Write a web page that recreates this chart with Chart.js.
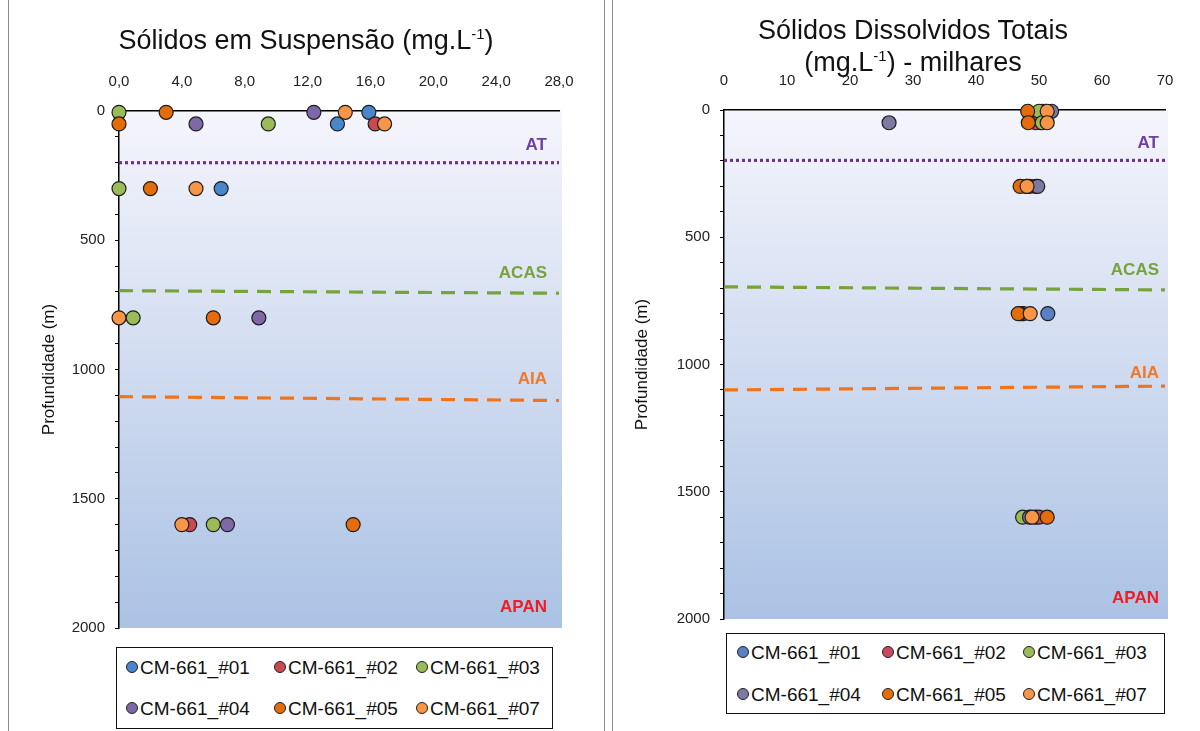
<!DOCTYPE html>
<html lang="pt">
<head>
<meta charset="UTF-8">
<title>Sólidos em Suspensão e Sólidos Dissolvidos Totais</title>
<script src="https://cdn.jsdelivr.net/npm/chart.js"></script>
<style>
  body { margin: 0; width: 1200px; height: 731px; background: #fff; position: relative; overflow: hidden;
         font-family: 'Liberation Sans', Arial, sans-serif; color: #111; }
  .frame { position: absolute; top: 0; height: 731px; border-left: 1px solid #8c8c8c; border-right: 1px solid #8c8c8c; }
  .frame canvas { position: absolute; left: 0; top: 0; }
  .title { position: absolute; font-size: 27px; text-align: center; line-height: 32px; }
  .title sup { font-size: 15px; line-height: 0; vertical-align: 10px; }
  .legend { position: absolute; border: 1.5px solid #111; background: #fff; box-sizing: border-box; }
  .legend .item { position: absolute; font-size: 19px; white-space: nowrap; line-height: 22px; }
  .legend .dot { display: inline-block; width: 10px; height: 10px; border-radius: 50%; border: 1px solid #222;
                 margin-right: 2px; vertical-align: 1px; }
</style>
</head>
<body>

<div class="frame" style="left:8px; width:595px;">
  <canvas id="ssChart" width="595" height="731"></canvas>
</div>
<div class="frame" style="left:612px; width:600px;">
  <canvas id="sdtChart" width="588" height="731"></canvas>
</div>

<div class="title" style="left:9px; width:594px; top:24px;">Sólidos em Suspensão (mg.L<sup>-1</sup>)</div>
<div class="title" style="left:613px; width:600px; top:14px;">Sólidos Dissolvidos Totais<br>(mg.L<sup>-1</sup>) - milhares</div>

<div class="legend" id="ssLegend" style="left:116px; top:647px; width:437px; height:82px;"></div>
<div class="legend" id="sdtLegend" style="left:726px; top:633px; width:439px; height:81px;"></div>

<script>
// amostragem (profundidade em m)
const depths = [5, 50, 300, 800, 1600];
const seriesNames = ['CM-661_#01', 'CM-661_#02', 'CM-661_#03', 'CM-661_#04', 'CM-661_#05', 'CM-661_#07'];

// sólidos em suspensão (mg/L), uma linha por estação, na ordem de depths
const ss01 = [15.9, 13.9, 6.5, null, null];
const ss02 = [null, 16.3, null, null, 4.5];
const ss03 = [0.0, 9.5, 0.0, 0.9, 6.0];
const ss04 = [12.4, 4.9, null, 8.9, 6.9];
const ss05 = [3.0, 0.0, 2.0, 6.0, 14.9];
const ss07 = [14.4, 16.9, 4.9, 0.0, 4.0];

// sólidos dissolvidos totais (mg/L, milhares)
const sdt01 = [51.0, 50.2, 48.5, 51.4, 49.5];
const sdt02 = [50.5, 49.5, 49.5, 47.3, 50.0];
const sdt03 = [50.0, 50.5, 48.0, 47.5, 47.4];
const sdt04 = [52.0, 26.2, 49.8, 47.0, 48.5];
const sdt05 = [48.2, 48.3, 47.0, 46.7, 51.3];
const sdt07 = [51.3, 51.3, 48.1, 48.6, 48.9];

// eixos
const ssMax = 28, ssStep = 4;
const sdtMax = 70, sdtStep = 10;
const depthMax = 2000, depthStep = 500;

// massas d'água: profundidade do limite (início e fim da linha)
const ssAT = [200, 200], ssACAS = [695, 705], ssAIA = [1105, 1120];
const sdtAT = [198, 198], sdtACAS = [695, 707], sdtAIA = [1100, 1085];

const ssColors  = ['#4a86cc', '#c94a52', '#9bbb59', '#7f68a8', '#e46c0a', '#f79646'];
const sdtColors = ['#5a7fc4', '#c84a5e', '#9bbb59', '#7c7aa2', '#e46c0a', '#f79646'];
const massStyle = {
  AT:   { color: '#7030a0', text: '#6f3ea6', dash: [3, 3] },
  ACAS: { color: '#76a33a', text: '#77a23c', dash: [14, 9] },
  AIA:  { color: '#f0741c', text: '#f0782a', dash: [14, 9] },
  APAN: { text: '#f01c24' }
};

Chart.defaults.font.family = "'Liberation Sans', Arial, sans-serif";
Chart.defaults.color = '#111';

// fundo em degradê da área de plotagem
const gradientBg = {
  id: 'gradientBg',
  beforeDraw(chart) {
    const { ctx, chartArea: a } = chart;
    const g = ctx.createLinearGradient(0, a.top, 0, a.bottom);
    g.addColorStop(0, '#f5f5fc');
    g.addColorStop(1, '#abc2e4');
    ctx.save();
    ctx.fillStyle = g;
    ctx.fillRect(a.left, a.top, a.right - a.left + 3, a.bottom - a.top);
    ctx.restore();
  }
};

// nomes das massas d'água acima de cada limite
const massLabels = {
  id: 'massLabels',
  afterDatasetsDraw(chart, args, opts) {
    const { ctx, chartArea: a, scales: { y } } = chart;
    ctx.save();
    ctx.font = 'bold 17px "Liberation Sans", Arial, sans-serif';
    ctx.textAlign = 'right';
    ctx.textBaseline = 'middle';
    opts.items.forEach(it => {
      const py = it.depth != null ? y.getPixelForValue(it.depth) - 17 : a.bottom - 21;
      ctx.fillStyle = massStyle[it.name].text;
      ctx.fillText(it.name, a.right - opts.inset, py);
    });
    ctx.restore();
  }
};

function pointSet(values, i, colors) {
  return {
    type: 'scatter',
    label: seriesNames[i],
    data: depths.map((d, k) => ({ x: values[k], y: d })).filter(p => p.x !== null),
    backgroundColor: colors[i],
    borderColor: '#1c1c1c',
    borderWidth: 1.2,
    pointRadius: 7,
    clip: false,
    order: seriesNames.length - i
  };
}

function massLine(name, ends, xMax) {
  const s = massStyle[name];
  return {
    type: 'line',
    label: name,
    data: [{ x: 0, y: ends[0] }, { x: xMax, y: ends[1] }],
    borderColor: s.color,
    borderWidth: 3.2,
    borderDash: s.dash,
    pointRadius: 0,
    order: 20
  };
}

function buildChart(id, cfg) {
  return new Chart(document.getElementById(id), {
    type: 'scatter',
    data: { datasets: cfg.datasets },
    plugins: [gradientBg, massLabels],
    options: {
      responsive: false,
      animation: false,
      layout: { padding: cfg.padding },
      plugins: {
        legend: { display: false },
        tooltip: { enabled: false },
        massLabels: { items: cfg.labels, inset: cfg.inset }
      },
      scales: {
        x: {
          type: 'linear', position: 'top', min: 0, max: cfg.xMax,
          afterFit: s => { s.height = cfg.xAxisHeight; },
          border: { display: true, color: '#000', width: 1.5 },
          grid: { display: false },
          ticks: { stepSize: cfg.xStep, padding: 12, font: { size: 15 }, color: '#222',
                   callback: cfg.xFormat }
        },
        y: {
          type: 'linear', reverse: true, min: 0, max: depthMax,
          afterFit: s => { s.width = cfg.yAxisWidth; },
          border: { display: true, color: '#000', width: 1.5 },
          grid: { display: true, drawOnChartArea: false, drawTicks: true, tickLength: 4, color: '#000' },
          title: { display: true, text: 'Profundidade (m)', font: { size: 17 }, padding: 0 },
          ticks: { stepSize: 100, autoSkip: false, padding: 10, font: { size: 15 }, color: '#222',
                   callback: v => (v % depthStep === 0 ? v : '') }
        }
      }
    }
  });
}

const ssSeries = [ss01, ss02, ss03, ss04, ss05, ss07];
const sdtSeries = [sdt01, sdt02, sdt03, sdt04, sdt05, sdt07];

buildChart('ssChart', {
  datasets: [
    ...ssSeries.map((v, i) => pointSet(v, i, ssColors)),
    massLine('AT', ssAT, ssMax), massLine('ACAS', ssACAS, ssMax), massLine('AIA', ssAIA, ssMax)
  ],
  labels: [{ name: 'AT', depth: ssAT[0] }, { name: 'ACAS', depth: ssACAS[0] },
           { name: 'AIA', depth: ssAIA[0] }, { name: 'APAN', depth: null }],
  inset: 12,
  xMax: ssMax, xStep: ssStep,
  xFormat: v => v.toFixed(1).replace('.', ','),
  padding: { left: 30, top: 70, right: 45, bottom: 103 },
  xAxisHeight: 41, yAxisWidth: 80
});

buildChart('sdtChart', {
  datasets: [
    ...sdtSeries.map((v, i) => pointSet(v, i, sdtColors)),
    massLine('AT', sdtAT, sdtMax), massLine('ACAS', sdtACAS, sdtMax), massLine('AIA', sdtAIA, sdtMax)
  ],
  labels: [{ name: 'AT', depth: sdtAT[0] }, { name: 'ACAS', depth: sdtACAS[0] },
           { name: 'AIA', depth: sdtAIA[0] }, { name: 'APAN', depth: null }],
  inset: 6,
  xMax: sdtMax, xStep: sdtStep,
  xFormat: v => v,
  padding: { left: 19, top: 70, right: 36, bottom: 112 },
  xAxisHeight: 40, yAxisWidth: 92
});

// legendas em 2 linhas x 3 colunas
function buildLegend(id, colors, cols, rows) {
  const box = document.getElementById(id);
  seriesNames.forEach((name, i) => {
    const el = document.createElement('div');
    el.className = 'item';
    el.style.left = cols[i % 3] + 'px';
    el.style.top = rows[Math.floor(i / 3)] + 'px';
    el.innerHTML = '<span class="dot" style="background:' + colors[i] + '"></span>' + name;
    box.appendChild(el);
  });
}
buildLegend('ssLegend', ssColors, [9, 157, 299], [9, 50]);
buildLegend('sdtLegend', sdtColors, [10, 155, 296], [8, 50]);
</script>
</body>
</html>
